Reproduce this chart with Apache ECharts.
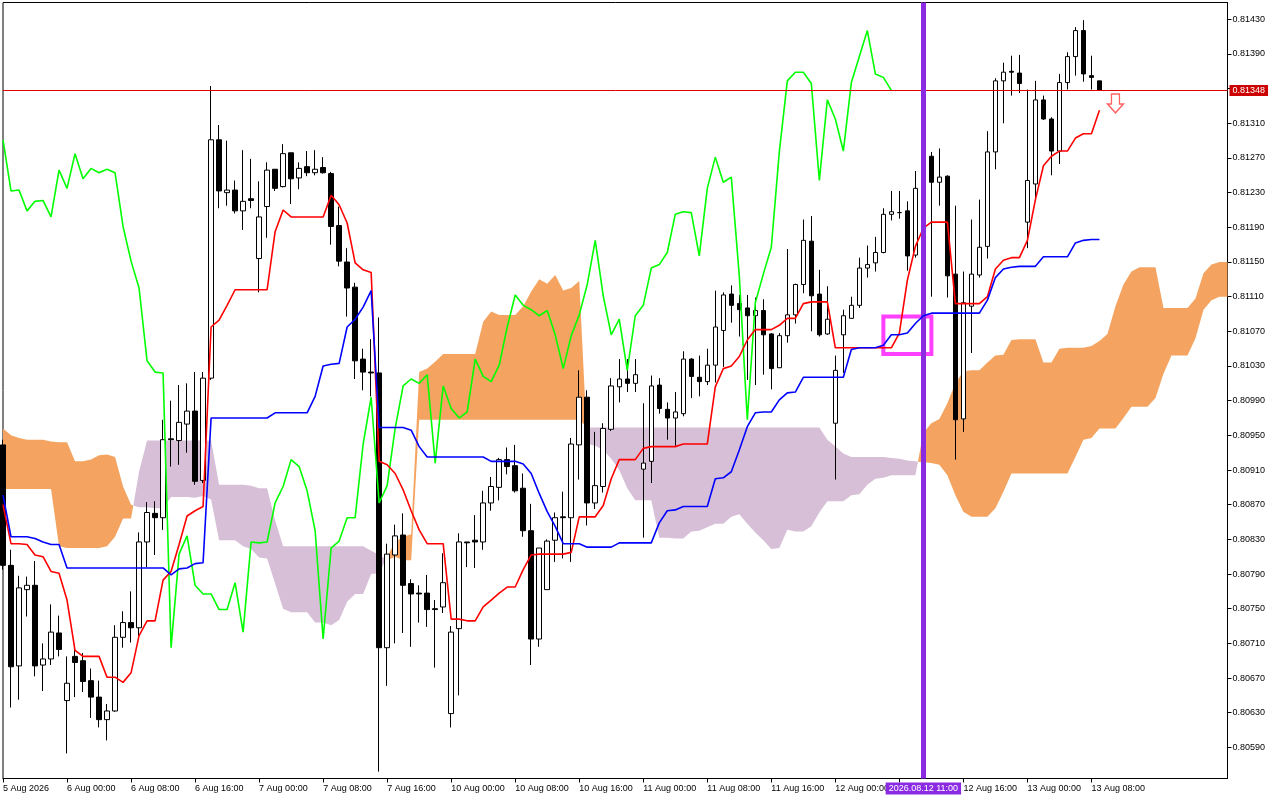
<!DOCTYPE html>
<html>
<head>
<meta charset="utf-8">
<script src="https://cdn.jsdelivr.net/npm/echarts@6/dist/echarts.min.js"></script>
<style>html,body{margin:0;padding:0;background:#fff}#chart{width:1280px;height:800px}</style>
</head>
<body>
<div id="chart"></div>
<script>
// ---- time axis (hourly bars, weekend skipped) ----
const sessionDays = ['2026.08.05','2026.08.06','2026.08.07','2026.08.10','2026.08.11','2026.08.12','2026.08.13','2026.08.14'];
const sessionFirstHour = [16,0,0,0,0,0,0,0];
const sessionLastHour  = [23,23,23,23,23,23,23,1];
const monthNames = ['Jan','Feb','Mar','Apr','May','Jun','Jul','Aug','Sep','Oct','Nov','Dec'];
const lastBar = 137;
const labelEvery = 8;

// ---- OHLC (bars 0..137) ----
const opens = [0.80939,0.80800,0.80684,0.80772,0.80777,0.80685,0.80692,0.80722,0.80644,0.80695,
0.80690,0.80667,0.80648,0.80622,0.80632,0.80717,0.80734,0.80728,0.80827,0.80860,
0.80855,0.80946,0.80944,0.80963,0.80978,0.80898,0.81016,0.81291,0.81230,0.81233,
0.81209,0.81223,0.81154,0.81214,0.81257,0.81237,0.81276,0.81247,0.81260,0.81253,
0.81259,0.81252,0.81192,0.81150,0.81121,0.81038,0.81023,0.81022,0.80705,0.80812,
0.80835,0.80779,0.80768,0.80768,0.80750,0.80752,0.80629,0.80727,0.80827,0.80829,
0.80827,0.80872,0.80890,0.80922,0.80915,0.80889,0.80840,0.80715,0.80772,0.80829,
0.80856,0.80855,0.80939,0.80994,0.80872,0.80891,0.80957,0.81006,0.81015,0.81010,
0.80911,0.80920,0.81008,0.80980,0.80970,0.80975,0.81038,0.81017,0.81012,0.81031,
0.81071,0.81113,0.81102,0.81097,0.81088,0.81094,0.81067,0.81028,0.81065,0.81089,
0.81124,0.81174,0.81113,0.81067,0.80964,0.81066,0.81085,0.81100,0.81143,0.81149,
0.81161,0.81205,0.81207,0.81209,0.81158,0.81235,0.81272,0.81242,0.81249,0.81136,
0.80969,0.81099,0.81135,0.81168,0.81277,0.81359,0.81370,0.81368,0.81196,0.81240,
0.81337,0.81315,0.81278,0.81357,0.81387,0.81417,0.81365,0.81359];
const closes = [0.80800,0.80683,0.80774,0.80777,0.80684,0.80692,0.80723,0.80703,0.80664,0.80688,
0.80666,0.80648,0.80622,0.80632,0.80717,0.80734,0.80728,0.80827,0.80861,0.80855,
0.80945,0.80945,0.80965,0.80978,0.80897,0.81016,0.81291,0.81232,0.81233,0.81209,
0.81220,0.81221,0.81202,0.81256,0.81235,0.81275,0.81246,0.81258,0.81253,0.81257,
0.81253,0.81191,0.81151,0.81120,0.81036,0.81023,0.81022,0.80705,0.80813,0.80834,
0.80777,0.80767,0.80767,0.80749,0.80749,0.80780,0.80723,0.80827,0.80826,0.80827,
0.80872,0.80891,0.80922,0.80914,0.80886,0.80840,0.80715,0.80820,0.80828,0.80855,
0.80855,0.80940,0.80994,0.80872,0.80892,0.80958,0.81007,0.81015,0.81010,0.81020,
0.80918,0.81007,0.80981,0.80970,0.80977,0.81038,0.81018,0.81012,0.81031,0.81075,
0.81112,0.81100,0.81095,0.81088,0.81094,0.81066,0.81027,0.81065,0.81089,0.81124,
0.81175,0.81111,0.81066,0.81084,0.81025,0.81088,0.81100,0.81143,0.81147,0.81161,
0.81205,0.81208,0.81207,0.81157,0.81235,0.81271,0.81242,0.81248,0.81134,0.80968,
0.81103,0.81136,0.81167,0.81277,0.81359,0.81369,0.81369,0.81356,0.81244,0.81337,
0.81315,0.81278,0.81357,0.81387,0.81417,0.81367,0.81363,0.81348];
const lows = [0.80795,0.80636,0.80645,0.80741,0.80672,0.80655,0.80685,0.80695,0.80583,0.80648,
0.80654,0.80624,0.80613,0.80598,0.80631,0.80705,0.80711,0.80718,0.80798,0.80812,
0.80841,0.80914,0.80916,0.80930,0.80893,0.80895,0.81014,0.81212,0.81215,0.81206,
0.81187,0.81212,0.81115,0.81178,0.81232,0.81236,0.81217,0.81234,0.81249,0.81250,
0.81252,0.81170,0.81145,0.81087,0.81015,0.81002,0.80995,0.80562,0.80661,0.80710,
0.80722,0.80706,0.80734,0.80729,0.80682,0.80745,0.80613,0.80650,0.80798,0.80797,
0.80818,0.80863,0.80875,0.80905,0.80884,0.80833,0.80685,0.80706,0.80772,0.80804,
0.80808,0.80804,0.80899,0.80846,0.80865,0.80884,0.80955,0.80988,0.81000,0.81000,
0.80832,0.80895,0.80975,0.80945,0.80938,0.80972,0.80993,0.80995,0.81008,0.81011,
0.81029,0.81080,0.81064,0.81014,0.81008,0.81020,0.81003,0.81028,0.81057,0.81079,
0.81114,0.81070,0.81064,0.81066,0.80899,0.81022,0.81085,0.81097,0.81132,0.81139,
0.81160,0.81198,0.81200,0.81140,0.81155,0.81227,0.81110,0.81215,0.81109,0.80922,
0.80954,0.81045,0.81132,0.81154,0.81257,0.81310,0.81342,0.81345,0.81166,0.81222,
0.81314,0.81250,0.81263,0.81349,0.81365,0.81358,0.81349,0.81348];
const highs = [0.80945,0.80818,0.80788,0.80787,0.80805,0.80710,0.80755,0.80742,0.80695,0.80709,
0.80699,0.80681,0.80667,0.80640,0.80731,0.80747,0.80770,0.80838,0.80873,0.80874,
0.80968,0.80990,0.81008,0.81010,0.81023,0.81023,0.81353,0.81308,0.81290,0.81244,
0.81279,0.81269,0.81243,0.81265,0.81257,0.81286,0.81276,0.81265,0.81278,0.81279,
0.81271,0.81254,0.81214,0.81166,0.81126,0.81050,0.81061,0.81086,0.80825,0.80847,
0.80860,0.80784,0.80777,0.80789,0.80760,0.80814,0.80730,0.80837,0.80827,0.80858,
0.80886,0.80902,0.80924,0.80936,0.80939,0.80906,0.80871,0.80820,0.80830,0.80861,
0.80885,0.80947,0.81025,0.81002,0.80954,0.80964,0.81016,0.81038,0.81038,0.81038,
0.80987,0.81019,0.81016,0.80988,0.81000,0.81047,0.81039,0.81042,0.81050,0.81117,
0.81115,0.81123,0.81112,0.81112,0.81109,0.81107,0.81068,0.81068,0.81165,0.81125,
0.81199,0.81203,0.81141,0.81122,0.81042,0.81095,0.81110,0.81155,0.81169,0.81179,
0.81212,0.81232,0.81232,0.81220,0.81255,0.81279,0.81277,0.81281,0.81250,0.81215,
0.81139,0.81199,0.81222,0.81301,0.81362,0.81380,0.81388,0.81389,0.81349,0.81359,
0.81342,0.81317,0.81367,0.81392,0.81421,0.81429,0.81388,0.81359];

// ---- Ichimoku lines ----
const tenkan = [0.80870,0.80825,0.80825,0.80824,0.80812,0.80810,0.80793,0.80791,0.80760,0.80702,
0.80695,0.80695,0.80695,0.80671,0.80671,0.80665,0.80676,0.80719,0.80736,0.80736,
0.80783,0.80793,0.80824,0.80857,0.80863,0.80868,0.81075,0.81083,0.81100,0.81118,
0.81118,0.81118,0.81118,0.81118,0.81185,0.81210,0.81202,0.81202,0.81202,0.81202,
0.81202,0.81227,0.81216,0.81195,0.81149,0.81141,0.81138,0.80920,0.80916,0.80906,
0.80887,0.80863,0.80841,0.80825,0.80825,0.80825,0.80738,0.80738,0.80736,0.80736,
0.80752,0.80760,0.80768,0.80775,0.80775,0.80795,0.80812,0.80813,0.80813,0.80813,
0.80813,0.80815,0.80856,0.80856,0.80856,0.80869,0.80900,0.80922,0.80922,0.80922,
0.80935,0.80937,0.80937,0.80937,0.80937,0.80940,0.80940,0.80940,0.80940,0.81006,
0.81027,0.81030,0.81041,0.81060,0.81072,0.81072,0.81072,0.81077,0.81085,0.81085,
0.81102,0.81104,0.81104,0.81104,0.81051,0.81051,0.81051,0.81051,0.81051,0.81051,
0.81051,0.81051,0.81068,0.81129,0.81168,0.81189,0.81196,0.81196,0.81196,0.81102,
0.81102,0.81102,0.81102,0.81110,0.81142,0.81152,0.81155,0.81155,0.81175,0.81222,
0.81261,0.81272,0.81278,0.81278,0.81293,0.81298,0.81298,0.81325];
const kijun = [0.80881,0.80833,0.80833,0.80833,0.80831,0.80827,0.80824,0.80824,0.80797,0.80797,
0.80797,0.80797,0.80797,0.80797,0.80797,0.80797,0.80797,0.80797,0.80797,0.80797,
0.80797,0.80789,0.80796,0.80797,0.80802,0.80803,0.80970,0.80970,0.80970,0.80970,
0.80970,0.80970,0.80970,0.80970,0.80976,0.80976,0.80976,0.80976,0.80976,0.80995,
0.81030,0.81032,0.81033,0.81075,0.81084,0.81098,0.81117,0.80959,0.80959,0.80959,
0.80959,0.80956,0.80937,0.80925,0.80925,0.80925,0.80925,0.80925,0.80925,0.80925,
0.80925,0.80920,0.80920,0.80920,0.80920,0.80917,0.80906,0.80883,0.80862,0.80845,
0.80825,0.80825,0.80825,0.80821,0.80821,0.80821,0.80821,0.80826,0.80826,0.80826,
0.80826,0.80826,0.80849,0.80863,0.80864,0.80868,0.80868,0.80868,0.80868,0.80900,
0.80901,0.80908,0.80933,0.80960,0.80976,0.80977,0.80977,0.80991,0.80999,0.81000,
0.81017,0.81017,0.81017,0.81017,0.81017,0.81017,0.81049,0.81051,0.81051,0.81051,
0.81054,0.81066,0.81066,0.81068,0.81079,0.81088,0.81091,0.81091,0.81091,0.81091,
0.81091,0.81091,0.81091,0.81106,0.81132,0.81142,0.81144,0.81145,0.81145,0.81145,
0.81156,0.81156,0.81156,0.81156,0.81172,0.81175,0.81176,0.81176];
// Senkou spans, already shifted 26 bars ahead (bars 0..153)
const spanA = [0.80958,0.80950,0.80947,0.80945,0.80945,0.80945,0.80943,0.80942,0.80942,0.80920,
0.80920,0.80922,0.80927,0.80928,0.80925,0.80891,0.80870,0.80867,0.80867,0.80866,
0.80866,0.80879,0.80879,0.80879,0.80878,0.80880,0.80876,0.80829,0.80829,0.80829,
0.80822,0.80819,0.80809,0.80808,0.80779,0.80750,0.80746,0.80746,0.80746,0.80734,
0.80734,0.80731,0.80737,0.80758,0.80767,0.80767,0.80790,0.80791,0.80810,0.80827,
0.80833,0.80836,0.81023,0.81027,0.81035,0.81044,0.81044,0.81044,0.81044,0.81044,
0.81081,0.81093,0.81089,0.81089,0.81089,0.81099,0.81116,0.81130,0.81125,0.81135,
0.81117,0.81120,0.81128,0.80940,0.80938,0.80933,0.80923,0.80910,0.80889,0.80875,
0.80875,0.80875,0.80832,0.80832,0.80831,0.80831,0.80839,0.80840,0.80844,0.80848,
0.80848,0.80856,0.80859,0.80848,0.80838,0.80829,0.80819,0.80820,0.80841,0.80839,
0.80839,0.80845,0.80861,0.80874,0.80874,0.80874,0.80881,0.80882,0.80893,0.80900,
0.80901,0.80904,0.80904,0.80904,0.80904,0.80953,0.80964,0.80969,0.80987,0.81010,
0.81024,0.81025,0.81025,0.81034,0.81042,0.81043,0.81060,0.81061,0.81061,0.81061,
0.81034,0.81034,0.81050,0.81051,0.81051,0.81051,0.81053,0.81059,0.81067,0.81099,
0.81124,0.81139,0.81144,0.81144,0.81144,0.81097,0.81097,0.81097,0.81097,0.81108,
0.81137,0.81147,0.81150,0.81150];
const spanB = [0.80888,0.80888,0.80888,0.80888,0.80888,0.80888,0.80888,0.80822,0.80820,0.80820,
0.80820,0.80820,0.80820,0.80822,0.80833,0.80854,0.80854,0.80908,0.80944,0.80944,
0.80944,0.80944,0.80944,0.80944,0.80944,0.80944,0.80944,0.80893,0.80893,0.80893,
0.80893,0.80892,0.80889,0.80889,0.80852,0.80822,0.80822,0.80822,0.80822,0.80822,
0.80822,0.80822,0.80822,0.80822,0.80822,0.80822,0.80817,0.80812,0.80806,0.80810,
0.80806,0.80806,0.80968,0.80968,0.80968,0.80968,0.80968,0.80968,0.80968,0.80968,
0.80968,0.80968,0.80968,0.80968,0.80968,0.80968,0.80968,0.80968,0.80968,0.80968,
0.80968,0.80968,0.80968,0.80959,0.80959,0.80959,0.80959,0.80959,0.80959,0.80959,
0.80959,0.80959,0.80959,0.80959,0.80959,0.80959,0.80959,0.80959,0.80959,0.80959,
0.80959,0.80959,0.80959,0.80959,0.80959,0.80959,0.80959,0.80959,0.80959,0.80959,
0.80959,0.80959,0.80959,0.80945,0.80937,0.80929,0.80925,0.80925,0.80925,0.80925,
0.80925,0.80924,0.80923,0.80921,0.80920,0.80919,0.80918,0.80916,0.80904,0.80881,
0.80862,0.80856,0.80856,0.80856,0.80866,0.80885,0.80906,0.80906,0.80906,0.80906,
0.80906,0.80906,0.80906,0.80906,0.80925,0.80945,0.80947,0.80958,0.80958,0.80958,
0.80970,0.80983,0.80983,0.80983,0.80993,0.81021,0.81042,0.81042,0.81042,0.81062,
0.81095,0.81106,0.81110,0.81110];
const chikouShift = 26;

// ---- price axis ticks ----
const priceTicks = [0.81430,0.81390,0.81350,0.81310,0.81270,0.81230,0.81190,0.81150,0.81110,0.81070,
0.81030,0.80990,0.80950,0.80910,0.80870,0.80830,0.80790,0.80750,0.80710,0.80670,0.80630,0.80590];
const hiddenPriceLabel = 0.81350; // covered by the current-price tag
const priceMin = 0.805541, priceMax = 0.814494;

// ---- annotations ----
const markedBar = 115;               // vertical line 2026.08.12 11:00
const focusBox = {from: 110, to: 116, high: 0.81087, low: 0.81044};
const signalArrow = [[139, 0.81333]];

// ---- build ----
const categories = [];
sessionDays.forEach((d, k) => {
  for (let h = sessionFirstHour[k]; h <= sessionLastHour[k]; h++) {
    categories.push(d + ' ' + String(h).padStart(2, '0') + ':00');
  }
});
const candles = opens.map((o, i) => [o, closes[i], lows[i], highs[i]]);
const chikou = closes.slice(chikouShift);
const lastPrice = closes[closes.length - 1];

const KUMO_UP = '#f4a460';    // Senkou A above B (sandybrown)
const KUMO_DOWN = '#d8bfd8';  // Senkou B above A (thistle)

function renderCloud(params, api) {
  const n = spanA.length;
  const pA = i => api.coord([i, spanA[i]]);
  const pB = i => api.coord([i, spanB[i]]);
  const sgn = i => (spanA[i] >= spanB[i] ? 1 : -1);
  const polys = [];
  let upper = [pA(0)], lower = [pB(0)], cur = sgn(0);
  for (let i = 0; i < n - 1; i++) {
    const s1 = sgn(i + 1);
    if (s1 !== cur) {
      const d0 = spanA[i] - spanB[i], d1 = spanA[i + 1] - spanB[i + 1];
      const t = d0 / (d0 - d1);
      const a0 = pA(i), a1 = pA(i + 1);
      const X = [a0[0] + t * (a1[0] - a0[0]), a0[1] + t * (a1[1] - a0[1])];
      upper.push(X);
      polys.push({pts: upper.concat(lower.slice().reverse()), s: cur});
      upper = [X]; lower = [X]; cur = s1;
    }
    upper.push(pA(i + 1)); lower.push(pB(i + 1));
  }
  polys.push({pts: upper.concat(lower.slice().reverse()), s: cur});
  return {
    type: 'group',
    children: polys.map(p => ({
      type: 'polygon',
      shape: {points: p.pts},
      style: {fill: p.s > 0 ? KUMO_UP : KUMO_DOWN}
    }))
  };
}

const FONT = 'Liberation Sans';
const chart = echarts.init(document.getElementById('chart'), null, {renderer: 'canvas'});
const showIdx = (index) => index % labelEvery === 0 && index <= lastBar;

chart.setOption({
  animation: false,
  backgroundColor: '#ffffff',
  grid: {left: 2.5, right: 52.5, top: 2.5, bottom: 21.5, show: true, borderColor: '#000', borderWidth: 1},
  xAxis: {
    type: 'category',
    data: categories,
    boundaryGap: false,
    axisLine: {lineStyle: {color: '#000', width: 1}},
    axisTick: {show: true, interval: showIdx, length: 4, lineStyle: {color: '#000'}},
    axisLabel: {
      interval: showIdx,
      align: 'left',
      margin: 6,
      fontSize: 9,
      fontFamily: FONT,
      color: '#000',
      formatter: (value, index) => {
        const day = parseInt(value.slice(8, 10), 10);
        const mon = monthNames[parseInt(value.slice(5, 7), 10) - 1];
        if (index === 0) return day + ' ' + mon + ' ' + value.slice(0, 4);
        return day + ' ' + mon + ' ' + value.slice(11, 16);
      }
    },
    splitLine: {show: false}
  },
  yAxis: {
    type: 'value',
    position: 'right',
    min: priceMin,
    max: priceMax,
    axisLine: {show: true, lineStyle: {color: '#000', width: 1}},
    axisTick: {show: true, length: 4, customValues: priceTicks, lineStyle: {color: '#000'}},
    axisLabel: {
      customValues: priceTicks.filter(v => v !== hiddenPriceLabel),
      formatter: v => v.toFixed(5),
      margin: 5,
      fontSize: 9,
      fontFamily: FONT,
      color: '#000'
    },
    splitLine: {show: false}
  },
  series: [
    {
      type: 'custom',
      name: 'Kumo',
      z: 1,
      clip: false,
      data: [[0, spanA[0]]],
      encode: {x: 0, y: 1},
      renderItem: renderCloud
    },
    {
      type: 'candlestick',
      name: 'Price',
      data: candles,
      barWidth: 5,
      z: 2,
      itemStyle: {color: '#ffffff', color0: '#000000', borderColor: '#000000', borderColor0: '#000000', borderWidth: 1}
    },
    {
      type: 'line', name: 'Chikou Span', data: chikou, z: 4, symbol: 'none',
      lineStyle: {color: '#00ff00', width: 1.6}
    },
    {
      type: 'line', name: 'Tenkan-sen', data: tenkan, z: 4, symbol: 'none',
      lineStyle: {color: '#ff0000', width: 1.6}
    },
    {
      type: 'line', name: 'Kijun-sen', data: kijun, z: 5, symbol: 'none',
      lineStyle: {color: '#0000ff', width: 1.6}
    },
    {
      type: 'scatter',
      name: 'Signal',
      data: signalArrow,
      z: 10,
      clip: false,
      symbol: 'path://M4,0 L12,0 L12,10 L16,10 L8,19 L0,10 L4,10 Z',
      symbolSize: [16, 19],
      itemStyle: {color: '#ffffff', borderColor: '#ff3c3c', borderWidth: 1.4},
      markArea: {
        silent: true,
        itemStyle: {color: 'rgba(0,0,0,0)', borderColor: '#ff40ff', borderWidth: 4},
        data: [[
          {xAxis: categories[focusBox.from], yAxis: focusBox.high},
          {xAxis: categories[focusBox.to], yAxis: focusBox.low}
        ]]
      },
      markLine: {
        silent: true,
        precision: 5,
        symbol: ['none', 'none'],
        data: [
          {
            yAxis: lastPrice,
            lineStyle: {color: '#e00000', width: 1, type: 'solid'},
            label: {
              show: true, position: 'end', distance: 2,
              formatter: lastPrice.toFixed(5),
              backgroundColor: '#cc0000', color: '#ffffff',
              padding: [1, 3, 1, 3], fontSize: 9, fontFamily: FONT
            }
          },
          {
            xAxis: categories[markedBar],
            lineStyle: {color: '#8a2be2', width: 5, type: 'solid'},
            label: {
              show: true, position: 'start', distance: 4,
              formatter: categories[markedBar],
              backgroundColor: '#8a2be2', color: '#ffffff',
              padding: [2, 3, 1, 3], fontSize: 9, fontFamily: FONT
            }
          }
        ]
      }
    }
  ]
});
</script>
</body>
</html>
